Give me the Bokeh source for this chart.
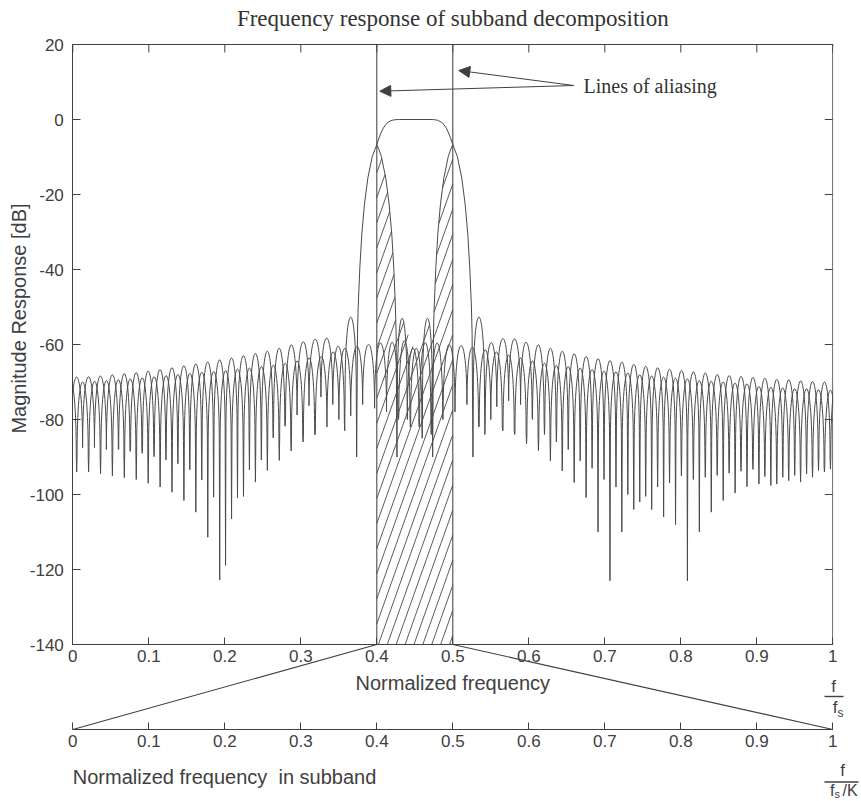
import numpy as np
from bokeh.plotting import figure
from bokeh.models import (Range1d, LinearAxis, FixedTicker, Label, Arrow, NormalHead,
                          ColumnDataSource)
from bokeh.embed import file_html
from bokeh.resources import INLINE

# ---------------------------------------------------------------- data
x_ticks = [0.0, 0.1, 0.2, 0.3, 0.4, 0.5, 0.6, 0.7, 0.8, 0.9, 1.0]
x_tick_labels = ["0", "0.1", "0.2", "0.3", "0.4", "0.5", "0.6", "0.7", "0.8", "0.9", "1"]
y_ticks = [-140, -120, -100, -80, -60, -40, -20, 0, 20]
y_tick_labels = ["-140", "-120", "-100", "-80", "-60", "-40", "-20", "0", "20"]
sub_ticks = [0.0, 0.1, 0.2, 0.3, 0.4, 0.5, 0.6, 0.7, 0.8, 0.9, 1.0]
sub_tick_labels = ["0", "0.1", "0.2", "0.3", "0.4", "0.5", "0.6", "0.7", "0.8", "0.9", "1"]

alias_f = [0.4, 0.5]          # lines of aliasing (band edges)

# centre sub-band filter: main lobe
center_main_f = [0.3735, 0.3746, 0.3755, 0.3777, 0.3803, 0.3838, 0.3882, 0.394, 0.4,
                 0.403, 0.4055, 0.408, 0.4115, 0.415, 0.42, 0.425, 0.43, 0.47, 0.475,
                 0.48, 0.485, 0.4885, 0.492, 0.4945, 0.497, 0.5, 0.506, 0.5118, 0.5162,
                 0.5197, 0.5223, 0.5245, 0.5254, 0.5265]
center_main_db = [-90, -57, -50, -39.4, -30.5, -22.5, -15.6, -9.9, -6.7,
                  -4.9, -3.6, -2.5, -1.4, -0.7, -0.2, -0.03, 0, 0, -0.03,
                  -0.2, -0.7, -1.4, -2.5, -3.6, -4.9, -6.7, -9.9, -15.6, -22.5,
                  -30.5, -39.4, -50, -57, -90]

# aliased lobe at the lower edge (right half, hatched)
lower_main_f = [0.4, 0.403, 0.406, 0.4118, 0.4162, 0.4197, 0.4223, 0.4245, 0.4254, 0.4265]
lower_main_db = [-6.7, -8.1, -9.9, -15.6, -22.5, -30.5, -39.4, -50, -57, -90]
# aliased lobe at the upper edge (left half, hatched)
upper_main_f = [0.4735, 0.4746, 0.4755, 0.4777, 0.4803, 0.4838, 0.4882, 0.494, 0.497, 0.5]
upper_main_db = [-90, -57, -50, -39.4, -30.5, -22.5, -15.6, -9.9, -8.1, -6.7]

# sidelobes: null frequencies, null depths, peak levels between nulls
center_left_null_f = [0.3735, 0.3578, 0.3421, 0.3265, 0.3108, 0.2951, 0.2794, 0.2637, 0.2481,
                      0.2324, 0.2167, 0.2010, 0.1853, 0.1697, 0.1540, 0.1383, 0.1226, 0.1069,
                      0.0913, 0.0756, 0.0599, 0.0442, 0.0285, 0.0129, -0.0028]
center_left_null_db = [-90, -83, -76, -74.0, -76.3, -78.8, -81.8, -84.9, -90.8, -93.4, -100.9,
                       -118.9, -100.7, -96.1, -93.4, -91.8, -90.8, -89.9, -89.0, -88.5, -88.0,
                       -88.0, -87.5, -87.5, -87.0]
center_left_peak_db = [-52.7, -60.5, -58.3, -58.6, -59.3, -60.1, -61.0, -61.8, -62.4, -63.0,
                       -63.6, -64.1, -64.7, -65.2, -65.7, -66.2, -66.7, -67.1, -67.5, -67.8,
                       -68.1, -68.4, -68.6, -68.7]

center_right_null_f = [0.5265, 0.5422, 0.5579, 0.5735, 0.5892, 0.6049, 0.6206, 0.6363, 0.6519,
                       0.6676, 0.6833, 0.6990, 0.7147, 0.7303, 0.7460, 0.7617, 0.7774, 0.7931,
                       0.8087, 0.8244, 0.8401, 0.8558, 0.8715, 0.8871, 0.9028, 0.9185, 0.9342,
                       0.9499, 0.9655, 0.9812, 0.9969, 1.0126]
center_right_null_db = [-90, -84, -76.6, -75, -76, -80, -84, -86, -88, -91, -93, -96, -98, -100,
                        -102, -104, -106, -108, -123, -110, -104.7, -101.6, -99.6, -97.9, -97.2,
                        -97.6, -95.4, -94.9, -94.5, -93.6, -93.2, -93]
center_right_peak_db = [-52.7, -59.5, -58.4, -58.5, -59.4, -60.1, -61.0, -61.8, -62.5, -63.2,
                        -63.8, -64.3, -64.7, -65.3, -65.8, -66.2, -66.6, -66.9, -67.3, -67.6,
                        -68.0, -68.3, -68.5, -68.8, -69.0, -69.3, -69.4, -69.7, -69.9, -70.0,
                        -70.1]

lower_right_null_f = [0.4265, 0.4402, 0.4559, 0.4716, 0.4872, 0.5029, 0.5186, 0.5343, 0.5500,
                      0.5656, 0.5813, 0.5970, 0.6127, 0.6284, 0.6440, 0.6597, 0.6754, 0.6911,
                      0.7068, 0.7224, 0.7381, 0.7538, 0.7695, 0.7852, 0.8008, 0.8165, 0.8322,
                      0.8479, 0.8636, 0.8792, 0.8949, 0.9106, 0.9263, 0.9420, 0.9576, 0.9733,
                      0.9890, 1.0047]
lower_right_null_db = [-90, -80, -82, -84, -80, -78, -76, -82, -80, -83, -84, -86.5, -88.3, -91,
                       -93.7, -96.8, -100.8, -110, -123, -110, -104, -100.5, -98, -96.9, -95,
                       -96, -95.4, -94.9, -94.3, -93.8, -93.3, -95.2, -97.2, -96.3, -96.7,
                       -95.4, -94, -94]
lower_right_peak_db = [-53, -61, -59.5, -59.6, -60, -60.3, -60.8, -61.4, -62, -62.8, -63.6,
                       -64.4, -65.0, -65.6, -65.9, -66.3, -66.7, -67.1, -67.3, -67.6, -68.1,
                       -68.4, -68.7, -69.0, -69.2, -69.6, -69.8, -70.0, -70.3, -70.5, -71.2,
                       -71.4, -71.6, -71.8, -71.8, -72.1, -72.2]

upper_left_null_f = [0.4735, 0.4598, 0.4441, 0.4285, 0.4128, 0.3971, 0.3814, 0.3657, 0.3501,
                     0.3344, 0.3187, 0.3030, 0.2873, 0.2717, 0.2560, 0.2403, 0.2246, 0.2089,
                     0.1933, 0.1776, 0.1619, 0.1462, 0.1305, 0.1149, 0.0992, 0.0835, 0.0678,
                     0.0521, 0.0365, 0.0208, 0.0051, -0.0106]
upper_left_null_db = [-90, -85, -82, -80, -78, -77, -76, -79, -80, -82.0, -84.1, -86.0, -88.4,
                      -90.9, -93.6, -96.7, -100.5, -106.5, -122.8, -111.4, -104.7, -101.6,
                      -99.4, -98.0, -97, -96, -95.5, -95, -94.5, -94, -94, -94]
upper_left_peak_db = [-53, -61, -59, -59.4, -59.6, -60, -60.5, -61, -62, -63.2, -63.6, -64.4,
                      -65, -65.5, -65.9, -66.3, -66.6, -67.0, -67.2, -67.4, -67.7, -68.0,
                      -68.3, -68.6, -68.9, -69.2, -69.4, -69.6, -69.8, -70.0, -70.1]

# ---------------------------------------------------------------- style / geometry
CURVE = "#4a4a4a"
TEXT = "#404040"
DB_TOP, DB_BOT = 20, -140
SUB_DB = -162.67          # level of the sub-band frequency axis
PX_PER_DB = 3.75
PX_PER_F = 760.0
TICK_FONT = "17px"
LABEL_FONT = "20px"


def dbpx(py):             # canvas pixel row -> dB coordinate (annotation placement)
    return DB_TOP - (py - 44) / PX_PER_DB


def fpx(px):              # canvas pixel column -> frequency coordinate
    return (px - 72.3) / PX_PER_F


# the plotting frame covers the whole canvas; the axes sit at fixed locations inside it
p = figure(width=861, height=801, x_range=Range1d(fpx(0), fpx(861)),
           y_range=Range1d(dbpx(801), dbpx(0)),
           x_axis_type=None, y_axis_type=None, toolbar_location=None, output_backend="svg",
           min_border_left=0, min_border_right=0, min_border_top=0, min_border_bottom=0)
p.outline_line_color = None
p.background_fill_color = "white"
p.border_fill_color = "white"


def style_axis(ax):
    ax.axis_line_color = TEXT
    ax.axis_line_width = 1
    ax.major_tick_line_color = TEXT
    ax.major_tick_in = 8
    ax.major_tick_out = 0
    ax.minor_tick_line_color = None
    ax.major_label_text_font = "Liberation Sans"
    ax.major_label_text_font_size = TICK_FONT
    ax.major_label_text_color = TEXT


yl = LinearAxis(ticker=FixedTicker(ticks=y_ticks), bounds=(DB_BOT, DB_TOP), fixed_location=0.0,
                major_label_overrides=dict(zip(y_ticks, y_tick_labels)))
style_axis(yl)
yl.major_label_standoff = 9
p.add_layout(yl, "left")

xb = LinearAxis(ticker=FixedTicker(ticks=x_ticks), bounds=(0, 1), fixed_location=DB_BOT,
                major_label_overrides=dict(zip(x_ticks, x_tick_labels)))
style_axis(xb)
xb.major_tick_in = 7
xb.major_label_standoff = 5
p.add_layout(xb, "below")

xs = LinearAxis(ticker=FixedTicker(ticks=sub_ticks), bounds=(0, 1), fixed_location=SUB_DB,
                major_label_overrides=dict(zip(sub_ticks, sub_tick_labels)))
style_axis(xs)
xs.major_tick_in = 7
xs.major_label_standoff = 5
p.add_layout(xs, "below")

# box: top and right edges with inward ticks (no labels)
tick_db = 8 / PX_PER_DB
tick_f = 8 / PX_PER_F
p.segment([0], [DB_TOP], [1], [DB_TOP], line_color=TEXT, line_width=1)
p.segment([1], [DB_BOT], [1], [DB_TOP], line_color=TEXT, line_width=1)
p.segment(x_ticks, [DB_TOP] * len(x_ticks), x_ticks, [DB_TOP - tick_db] * len(x_ticks),
          line_color=TEXT, line_width=1)
p.segment([1] * len(y_ticks), y_ticks, [1 - tick_f] * len(y_ticks), y_ticks,
          line_color=TEXT, line_width=1)


# ---------------------------------------------------------------- sidelobe glyphs
def lobes(null_f, null_db, peak_db, segs, bez, depth=20.0, frac=0.032):
    for i, pk in enumerate(peak_db):
        xa, xb_ = null_f[i], null_f[i + 1]
        ya, yb = null_db[i], null_db[i + 1]
        w = xb_ - xa
        lvl = pk - depth
        if ya >= lvl:
            sax, say = xa, ya
        else:
            sax, say = xa + frac * w, lvl
            for k, v in zip(("x0", "y0", "x1", "y1"), (xa, ya, sax, say)):
                segs[k].append(v)
        if yb >= lvl:
            sbx, sby = xb_, yb
        else:
            sbx, sby = xb_ - frac * w, lvl
            for k, v in zip(("x0", "y0", "x1", "y1"), (sbx, sby, xb_, yb)):
                segs[k].append(v)
        cy = (pk - 0.125 * (say + sby)) / 0.75
        for k, v in zip(("x0", "y0", "x1", "y1", "cx0", "cy0", "cx1", "cy1"),
                        (sax, say, sbx, sby, sax, cy, sbx, cy)):
            bez[k].append(v)


def clip_x(d):            # keep the curves between f = 0 and f = 1
    keep = [i for i in range(len(d["x0"])) if min(d["x0"][i], d["x1"][i]) >= -0.02
            and max(d["x0"][i], d["x1"][i]) <= 1.02]
    return {k: [v[i] for i in keep] for k, v in d.items()}


segs = {k: [] for k in ("x0", "y0", "x1", "y1")}
bez = {k: [] for k in ("x0", "y0", "x1", "y1", "cx0", "cy0", "cx1", "cy1")}
lobes(center_left_null_f, center_left_null_db, center_left_peak_db, segs, bez)
lobes(center_right_null_f, center_right_null_db, center_right_peak_db, segs, bez)
lobes(lower_right_null_f, lower_right_null_db, lower_right_peak_db, segs, bez)
lobes(upper_left_null_f, upper_left_null_db, upper_left_peak_db, segs, bez)
segs, bez = clip_x(segs), clip_x(bez)


# ---------------------------------------------------------------- hatching (aliasing area)
def peak_points(null_f, peak_db):
    return [0.5 * (null_f[i] + null_f[i + 1]) for i in range(len(peak_db))], list(peak_db)


lpf, lpd = peak_points(lower_right_null_f, lower_right_peak_db)
upf, upd = peak_points(upper_left_null_f, upper_left_peak_db)
env_lx = np.array(lower_main_f[:-1] + lpf)
env_ly = np.array(lower_main_db[:-1] + lpd)
env_ux = np.array(upf[::-1] + upper_main_f[1:])
env_uy = np.array(upd[::-1] + upper_main_db[1:])
o1, o2 = np.argsort(env_lx), np.argsort(env_ux)
lo, hi = alias_f
slope = 0.00175          # hatch line direction (f per dB)
step = 0.0117            # hatch spacing along f
hx0, hy0, hx1, hy1 = [], [], [], []
yy = np.arange(DB_BOT, DB_TOP, 0.05)
start = lo + 0.0013 - slope * (DB_TOP - DB_BOT)
for x0 in np.arange(start, hi, step):
    xx = x0 + (yy - DB_BOT) * slope
    env = np.maximum(np.interp(xx, env_lx[o1], env_ly[o1], left=-999, right=-999),
                     np.interp(xx, env_ux[o2], env_uy[o2], left=-999, right=-999))
    inside = (xx >= lo) & (xx <= hi) & (yy <= env)
    idx = np.flatnonzero(inside)
    if idx.size == 0:
        continue
    runs = np.split(idx, np.flatnonzero(np.diff(idx) > 1) + 1)
    for r in runs:
        if r.size < 2:
            continue
        hx0.append(xx[r[0]]); hy0.append(yy[r[0]])
        hx1.append(xx[r[-1]]); hy1.append(yy[r[-1]])

p.segment(hx0, hy0, hx1, hy1, line_color=CURVE, line_width=0.9)

# ---------------------------------------------------------------- curves
p.segment(x0="x0", y0="y0", x1="x1", y1="y1", source=ColumnDataSource(segs),
          line_color=CURVE, line_width=1)
p.bezier(x0="x0", y0="y0", x1="x1", y1="y1", cx0="cx0", cy0="cy0", cx1="cx1", cy1="cy1",
         source=ColumnDataSource(bez), line_color=CURVE, line_width=1)
p.line(center_main_f, center_main_db, line_color=CURVE, line_width=1)
p.line(lower_main_f, lower_main_db, line_color=CURVE, line_width=1)
p.line(upper_main_f, upper_main_db, line_color=CURVE, line_width=1)

# white masks outside the data area (curves end at f = 0 and f = 1)
p.quad(left=[fpx(0), 1.0005], right=[-0.0005, fpx(861)], bottom=[DB_BOT + 0.3] * 2,
       top=[DB_TOP - 0.3] * 2, fill_color="white", line_color=None)

# lines of aliasing and their mapping onto the sub-band axis
p.segment(alias_f, [DB_BOT] * 2, alias_f, [DB_TOP] * 2, line_color=CURVE, line_width=1.1)
p.segment(alias_f, [DB_BOT] * 2, [sub_ticks[0], sub_ticks[-1]], [SUB_DB] * 2,
          line_color=TEXT, line_width=1.1)


# ---------------------------------------------------------------- texts
def text(x, y, t, size="16px", align="center", font="Liberation Sans", color=TEXT, angle=0.0):
    p.add_layout(Label(x=x, y=y, text=t, text_font=font, text_font_size=size, text_color=color,
                       text_align=align, text_baseline="middle", angle=angle))


text(0.5, dbpx(18), "Frequency response of subband decomposition", size="23px",
     font="Liberation Serif", color="#333333")
text(fpx(583), dbpx(85), "Lines of aliasing", size="20px", align="left",
     font="Liberation Serif", color="#333333")
for tip in ((fpx(458.3), dbpx(70)), (fpx(379.3), dbpx(90.7))):
    p.add_layout(Arrow(end=NormalHead(size=11, fill_color=TEXT, line_color=TEXT),
                       x_start=fpx(573.3), y_start=dbpx(85), x_end=tip[0], y_end=tip[1],
                       line_color=TEXT, line_width=1))

text(fpx(18), dbpx(318), "Magnitude Response [dB]", size=LABEL_FONT, angle=np.pi / 2)
text(0.5, dbpx(682), "Normalized frequency", size=LABEL_FONT)
text(0.0, dbpx(776), "Normalized frequency\u00a0 in subband", size=LABEL_FONT, align="left")

# unit fractions  f / fs  and  f / (fs/K)
text(fpx(833), dbpx(686), "f", size="17px")
p.segment([fpx(824)], [dbpx(696)], [fpx(843)], [dbpx(696)], line_color=TEXT, line_width=1.4)
text(fpx(837), dbpx(707), "f", size="17px", align="right")
text(fpx(837), dbpx(712), "s", size="12px", align="left")

text(fpx(842), dbpx(770), "f", size="17px")
p.segment([fpx(824)], [dbpx(781.5)], [fpx(858)], [dbpx(781.5)], line_color=TEXT, line_width=1.4)
text(fpx(834), dbpx(790), "f", size="16px", align="right")
text(fpx(834), dbpx(793), "s", size="11px", align="left")
text(fpx(842), dbpx(790), "/K", size="16px", align="left")

open("out.html", "w").write(file_html(p, INLINE))
